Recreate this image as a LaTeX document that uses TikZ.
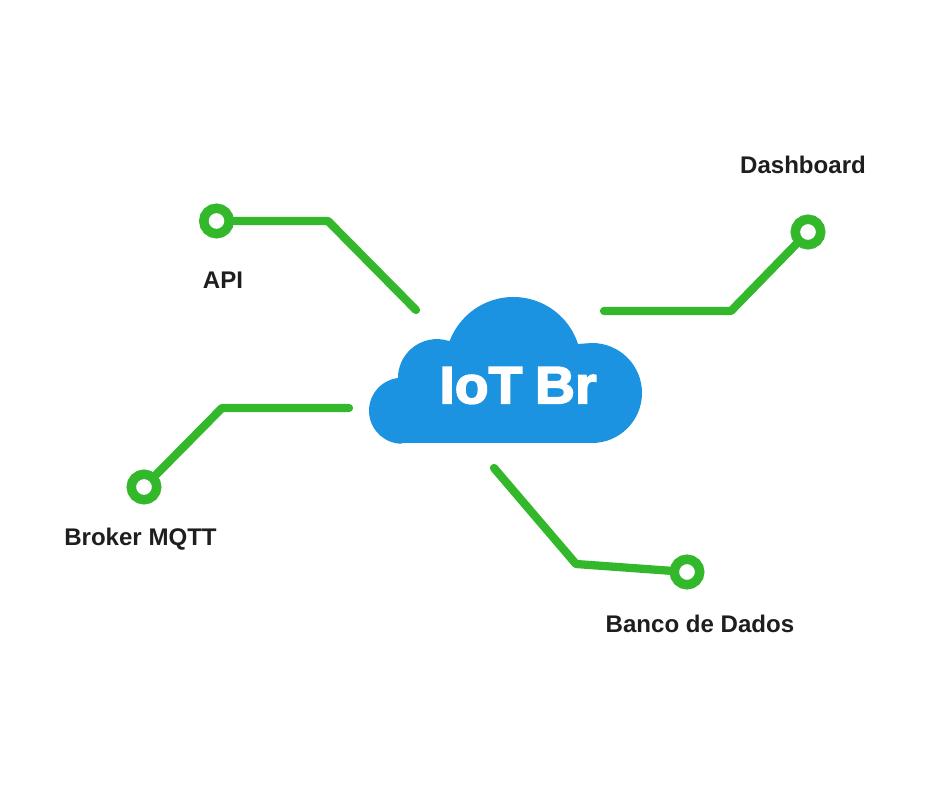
\documentclass[tikz,border=0pt]{standalone}
\usepackage{fontspec}
\setmainfont{Liberation Sans}
\newfontfamily\cloudfont[FakeBold=3,FakeStretch=1.05]{Liberation Sans Bold}
\usepackage{xcolor}
\definecolor{linkgreen}{HTML}{33B82B}
\definecolor{cloudblue}{HTML}{1B93E0}
\definecolor{labelgray}{HTML}{1E1E1E}

\begin{document}
\begin{tikzpicture}[x=0.02cm,y=0.02cm]
% Stili
\tikzstyle{ring} = [
    circle,
    draw=linkgreen,
    line width=5.4pt,
    fill=white,
    inner sep=0pt,
    minimum size=14.5pt
]

\tikzstyle{link} = [
    draw=linkgreen,
    line width=4.7pt,
    line cap=round,
    line join=round
]

\tikzstyle{label} = [
    text=labelgray,
    font=\fontsize{13.7pt}{16pt}\selectfont\bfseries,
    align=center
]

\useasboundingbox (0,0) rectangle (940,788);

% Nuvem
\fill[cloudblue] (402,345) -- (592,345)
    arc (-90:90:50) -- (578,444)
    arc (18:159:68) -- (449,447)
    arc (72:180:39) -- (398,410)
    arc (97:270:33) -- cycle;

\node[text=white, font=\fontsize{30pt}{34pt}\cloudfont] (cloud) at (518,402.5)
{IoT\hspace{0.24em}Br};

% Nodi
\node[ring] (api) at (216.5,567) {};
\node[ring] (dash) at (808,556) {};
\node[ring] (broker) at (144,301) {};
\node[ring] (banco) at (687,216) {};

\coordinate (b1) at (328,567);
\coordinate (e1) at (416,478);
\coordinate (b2) at (731,477);
\coordinate (e2) at (604,477);
\coordinate (b3) at (222,380);
\coordinate (e3) at (349,380);
\coordinate (b4) at (576,224);
\coordinate (e4) at (494,320);

% Etichette
\node[label] (lapi) at (223,508) {API};
\node[label] (ldash) at (803,623) {Dashboard};
\node[label] (lbroker) at (140.5,249) {Broker MQTT};
\node[label] (lbanco) at (700,164) {Banco de Dados};

% Archi
\draw[link] (api) -- (b1) -- (e1);

\draw[link] (dash) -- (b2) -- (e2);

\draw[link] (broker) -- (b3) -- (e3);

\draw[link] (banco) -- (b4) -- (e4);

\end{tikzpicture}
\end{document}
